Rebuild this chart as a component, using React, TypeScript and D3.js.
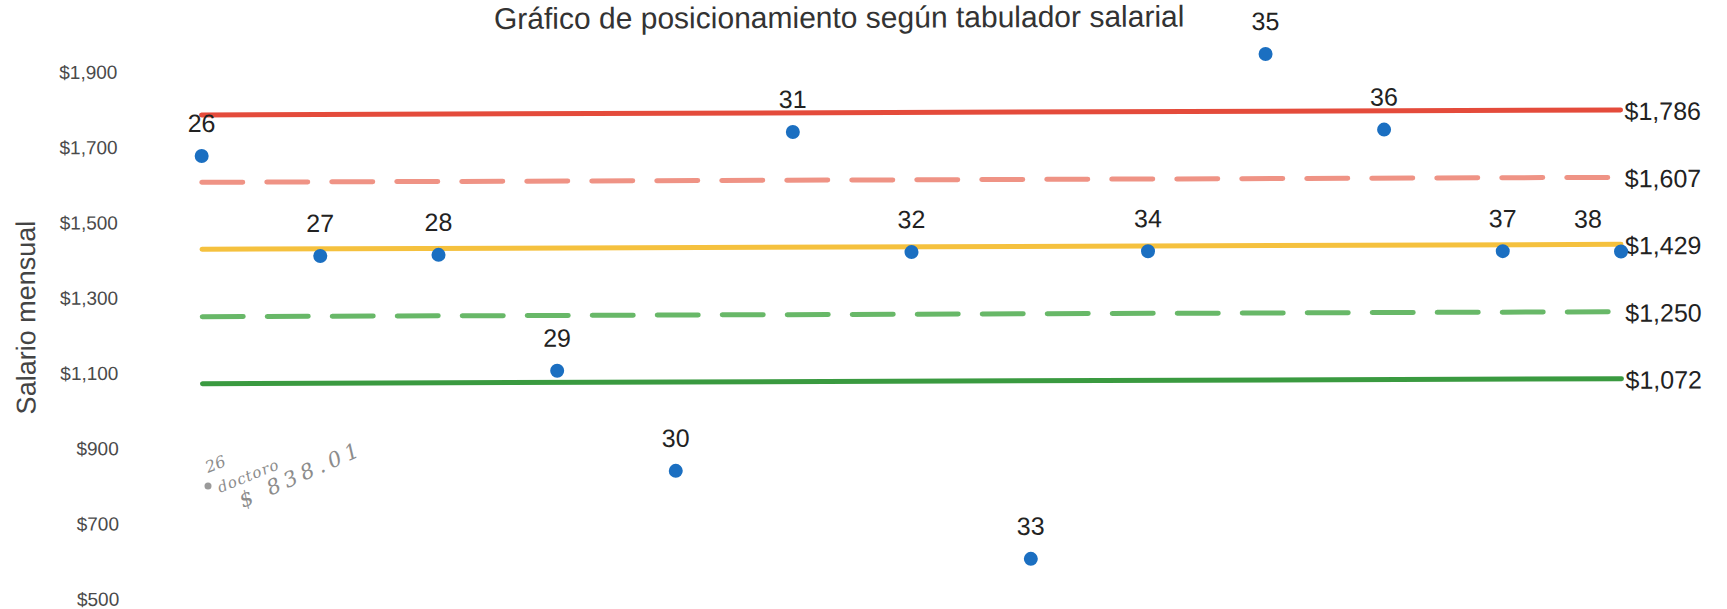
import React from "react";
import * as d3 from "d3";

// Positions (employee numbers) and their monthly salaries
const categories = ["26", "27", "28", "29", "30", "31", "32", "33", "34", "35", "36", "37", "38"];
const salaries = [1677, 1410, 1412, 1103, 836, 1735, 1415, 599, 1415, 1938, 1736, 1412, 1410];

// Salary-scale reference levels (max, upper quartile, midpoint, lower quartile, min)
const bandValues = [1786, 1607, 1429, 1250, 1072];
const bandLabels = ["$1,786", "$1,607", "$1,429", "$1,250", "$1,072"];

// Y axis ticks
const yTicks = [500, 700, 900, 1100, 1300, 1500, 1700, 1900];

const bandStyles = [
  { color: "#e44b3b", dash: null },
  { color: "#ef9385", dash: "41 24" },
  { color: "#f5c13e", dash: null },
  { color: "#68b868", dash: "41 24" },
  { color: "#3a9a40", dash: null },
];

const W = 1727;
const H = 609;
const FONT = "'Liberation Sans', Arial, Helvetica, sans-serif";
const fmt = d3.format("$,.0f");

export default function App() {
  const x = d3.scalePoint<string>().domain(categories).range([202, 1621]);
  const y = d3.scaleLinear().domain([500, 1900]).range([599, 72]);
  const line = d3.line<[number, number]>().x((d) => d[0]).y((d) => d[1]);
  const x0 = x(categories[0]) as number;
  const x1 = x(categories[categories.length - 1]) as number;

  return (
    <svg
      width={W}
      height={H}
      viewBox={`0 0 ${W} ${H}`}
      style={{ position: "absolute", left: 0, top: 0, background: "#fff" }}
      fontFamily={FONT}
    >
      <rect width={W} height={H} fill="#ffffff" />
      <g transform="rotate(-0.2, 202, 250)">
        <text x={840} y={30} textAnchor="middle" fontSize={30} fill="#333">
          Gráfico de posicionamiento según tabulador salarial
        </text>

        {/* Y axis */}
        <text
          transform="translate(26, 317) rotate(-90)"
          textAnchor="middle"
          dominantBaseline="central"
          fontSize={27}
          fill="#444"
        >
          Salario mensual
        </text>
        {yTicks.map((t) => (
          <text
            key={t}
            x={118}
            y={y(t)}
            textAnchor="end"
            dominantBaseline="central"
            fontSize={19}
            fill="#4a4a4a"
          >
            {fmt(t)}
          </text>
        ))}

        {/* Reference levels */}
        {bandValues.map((v, i) => (
          <g key={v}>
            <path
              d={line([
                [x0, y(v)],
                [x1, y(v)],
              ]) as string}
              fill="none"
              stroke={bandStyles[i].color}
              strokeWidth={5}
              strokeLinecap="round"
              strokeDasharray={bandStyles[i].dash ?? undefined}
            />
            <text
              x={x1 + 4}
              y={y(v) + 1}
              dominantBaseline="central"
              fontSize={25}
              fill="#222"
            >
              {bandLabels[i]}
            </text>
          </g>
        ))}

        {/* Salary points */}
        {categories.map((c, i) => {
          const cx = x(c) as number;
          const cy = y(salaries[i]);
          const last = i === categories.length - 1;
          return (
            <g key={c}>
              <circle cx={cx} cy={cy} r={7} fill="#1b6fc1" />
              <text
                x={last ? cx - 19 : cx}
                y={cy - 24}
                textAnchor={last ? "end" : "middle"}
                fontSize={25}
                fill="#222"
              >
                {c}
              </text>
            </g>
          );
        })}
      </g>

      {/* Pencil note */}
      <g fill="#8c8c8c" fontFamily="'DejaVu Serif', serif" fontStyle="italic">
        <text transform="translate(208, 473) rotate(-22)" fontSize={16}>
          26
        </text>
        <circle cx={208} cy={486} r={3.5} fill="#9a9a9a" />
        <text transform="translate(220, 493) rotate(-22)" fontSize={15} letterSpacing={1}>
          doctoro
        </text>
        <text transform="translate(243, 508) rotate(-24)" fontSize={21} letterSpacing={5}>
          $ 838.01
        </text>
      </g>
    </svg>
  );
}
